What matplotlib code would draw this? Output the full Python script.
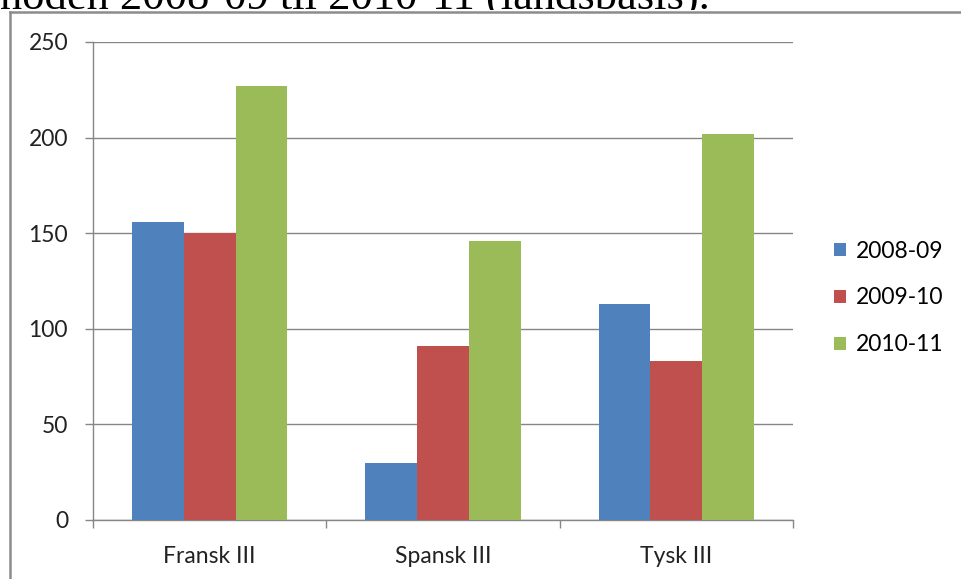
import matplotlib.pyplot as plt
import numpy as np
from matplotlib.lines import Line2D
from matplotlib.patches import Rectangle

# Data
categories = ['Fransk III', 'Spansk III', 'Tysk III']
series_names = ['2008-09', '2009-10', '2010-11']
v_2008 = [156, 30, 113]
v_2009 = [150, 91, 83]
v_2010 = [227, 146, 202]
yticks = [0, 50, 100, 150, 200, 250]
caption = 'noden 2008-09 til 2010-11 (landsbasis).'

colors = ['#4F81BD', '#C0504D', '#9BBB59']
grid_col = '#868686'
plt.rcParams['font.family'] = ['Lato', 'DejaVu Sans']
fs = 16.5

W, H = 962, 579
fig = plt.figure(figsize=(W / 100, H / 100), dpi=100)

# Plot area in pixel coordinates
x0, x1, y_top, y_bot = 93, 793, 42, 520
ax = fig.add_axes([x0 / W, (H - y_bot) / H, (x1 - x0) / W, (y_bot - y_top) / H])
ax.set_zorder(5)

x = np.arange(len(categories))
width = 1 / 4.5
for i, vals in enumerate([v_2008, v_2009, v_2010]):
    ax.bar(x + (i - 1) * width, vals, width, color=colors[i],
           label=series_names[i], zorder=3)

ax.set_xlim(-0.5, len(categories) - 0.5)
ax.set_ylim(0, 250)
ax.set_yticks(yticks)
ax.set_yticklabels([str(t) for t in yticks], fontsize=fs, color='#222222')
ax.set_xticks(x)
ax.set_xticklabels(categories, fontsize=fs, color='#222222')
ax.set_xticks(np.arange(len(categories) + 1) - 0.5, minor=True)

ax.tick_params(axis='y', length=6, width=1, color=grid_col, pad=12)
ax.tick_params(axis='x', which='major', length=0, pad=19)
ax.tick_params(axis='x', which='minor', length=5.5, width=1, color=grid_col)

ax.yaxis.grid(True, color=grid_col, linewidth=1)
ax.set_axisbelow(True)
for s in ['top', 'right']:
    ax.spines[s].set_visible(False)
for s in ['left', 'bottom']:
    ax.spines[s].set_color(grid_col)
    ax.spines[s].set_linewidth(1)

leg = ax.legend(loc='center left', bbox_to_anchor=(823 / W, (H - 298) / H),
                bbox_transform=fig.transFigure, frameon=False, fontsize=fs,
                handlelength=0.5, handleheight=0.5, handletextpad=0.45,
                labelspacing=1.12, borderpad=0)

# Document text line above the chart, partly hidden by the chart object
fig.text(0, (H - 9) / H, caption, fontsize=32, family='Liberation Serif',
         va='baseline', ha='left', color='black', zorder=3)
fig.add_artist(Rectangle((0, 0), 1, (H - 10) / H, transform=fig.transFigure,
                         facecolor='white', edgecolor='none', zorder=4))

# Outer frame of the chart object (top and left edges visible)
fig.add_artist(Line2D([10 / W, 10 / W], [0, (H - 12) / H], color='#8c8c8c',
                      linewidth=1.8, transform=fig.transFigure, zorder=6))
fig.add_artist(Line2D([10 / W, 1], [(H - 12) / H, (H - 12) / H], color='#8c8c8c',
                      linewidth=1.8, transform=fig.transFigure, zorder=6))

fig.savefig('out.png', dpi=100)
